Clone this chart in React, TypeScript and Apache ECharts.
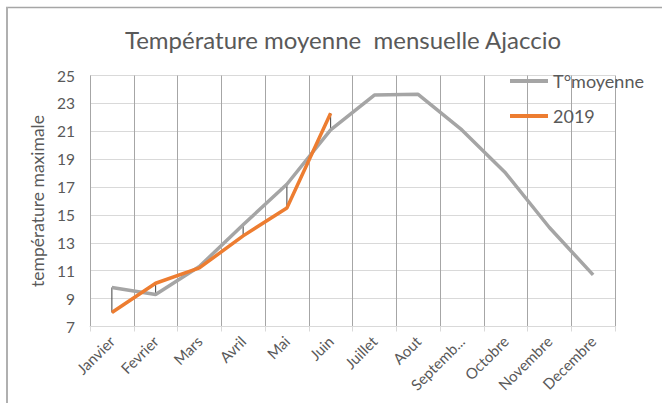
import React, { useEffect, useRef } from "react";
import * as echarts from "echarts";

const months = ["Janvier", "Fevrier", "Mars", "Avril", "Mai", "Juin", "Juillet", "Aout", "Septembre", "Octobre", "Novembre", "Decembre"];
const moyenne = [9.8, 9.3, 11.3, 14.3, 17.2, 21.1, 23.6, 23.65, 21.1, 18.0, 14.1, 10.7];
const y2019 = [8.0, 10.1, 11.2, 13.5, 15.5, 22.3];
const yTicks = { min: 7, max: 25, interval: 2 };

const FONT = "Lato";
const TXT = "#595959";

export default function App() {
  const ref = useRef<HTMLDivElement>(null);
  useEffect(() => {
    if (!ref.current) return;
    const chart = echarts.init(ref.current, undefined, { renderer: "svg" });
    const hiLo = y2019.map((v, i) => [i, moyenne[i], v]);
    chart.setOption({
      animation: false,
      backgroundColor: "#ffffff",
      textStyle: { fontFamily: FONT },
      title: {
        text: "Température moyenne  mensuelle Ajaccio",
        left: 338,
        top: 22,
        textAlign: "center",
        textStyle: { fontFamily: FONT, fontSize: 24, fontWeight: "normal", color: TXT },
      },
      legend: {
        data: ["T°moyenne", "2019"],
        orient: "vertical",
        left: 505,
        top: 67,
        itemWidth: 38,
        itemHeight: 4,
        itemGap: 17,
        icon: "rect",
        textStyle: { fontFamily: FONT, fontSize: 18, color: TXT },
      },
      graphic: [
        { type: "line", shape: { x1: 6, y1: 7.5, x2: 662, y2: 7.5 }, style: { stroke: "#a6a6a6", lineWidth: 1.5 } },
        { type: "line", shape: { x1: 7, y1: 7, x2: 7, y2: 403 }, style: { stroke: "#b0b0b0", lineWidth: 2 } },
      ],
      grid: { left: 90, right: 47, top: 75.5, bottom: 76.5, containLabel: false },
      xAxis: {
        type: "category",
        data: months,
        boundaryGap: true,
        axisLine: { show: true, lineStyle: { color: "#d9d9d9", width: 1 } },
        axisTick: { show: true, interval: 0, length: 5, lineStyle: { color: "#d9d9d9" } },
        splitLine: { show: true, interval: 0, lineStyle: { color: "#a6a6a6", width: 1 } },
        axisLabel: {
          interval: 0,
          rotate: 45,
          fontFamily: FONT,
          fontSize: 15,
          color: TXT,
          margin: 12,
          formatter: (s: string) => (s.length > 8 ? s.slice(0, 7) + "..." : s),
        },
      },
      yAxis: {
        type: "value",
        min: yTicks.min,
        max: yTicks.max,
        interval: yTicks.interval,
        name: "température maximale",
        nameLocation: "middle",
        nameGap: 37,
        nameTextStyle: { fontFamily: FONT, fontSize: 17.5, color: TXT },
        axisLine: { show: false },
        axisTick: { show: false },
        splitLine: { show: true, lineStyle: { color: "#d9d9d9", width: 1 } },
        axisLabel: { fontFamily: FONT, fontSize: 15.5, color: TXT, margin: 15 },
      },
      series: [
        {
          type: "custom",
          name: "hilo",
          z: 1,
          data: hiLo,
          encode: { x: 0, y: [1, 2] },
          renderItem: (params: any, api: any) => {
            const p1 = api.coord([api.value(0), api.value(1)]);
            const p2 = api.coord([api.value(0), api.value(2)]);
            return {
              type: "line",
              shape: { x1: p1[0], y1: p1[1], x2: p2[0], y2: p2[1] },
              style: { stroke: "#404040", lineWidth: 1 },
            };
          },
        },
        {
          type: "line",
          name: "T°moyenne",
          data: moyenne,
          symbol: "none",
          z: 2,
          lineStyle: { color: "#a5a5a5", width: 3.5 },
          itemStyle: { color: "#a5a5a5" },
        },
        {
          type: "line",
          name: "2019",
          data: y2019,
          symbol: "none",
          z: 3,
          lineStyle: { color: "#ed7d31", width: 3.5 },
          itemStyle: { color: "#ed7d31" },
        },
      ],
    });
    return () => chart.dispose();
  }, []);
  return <div ref={ref} style={{ position: "fixed", left: 0, top: 0, width: 662, height: 403 }} />;
}
